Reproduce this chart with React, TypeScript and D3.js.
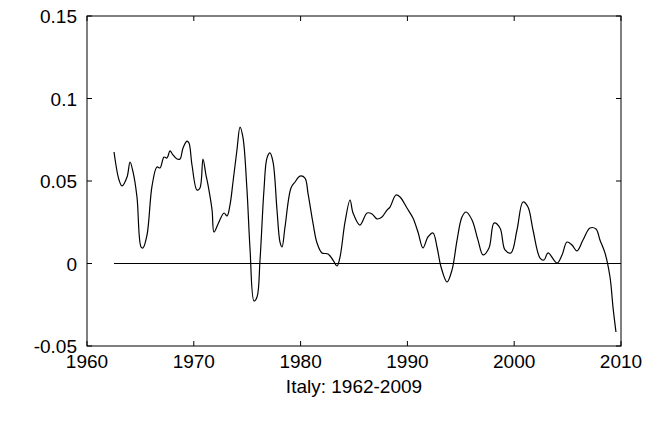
import React from "react";
import * as d3 from "d3";

const years = [1962.53,1963.00,1963.28,1963.75,1964.03,1964.31,1964.68,1965.06,1965.24,1965.62,1966.09,1966.55,1966.84,1967.21,1967.49,1967.77,1968.05,1968.43,1968.71,1968.99,1969.36,1969.55,1969.83,1970.30,1970.58,1970.86,1971.14,1971.33,1971.71,1971.89,1972.27,1972.83,1973.11,1973.39,1973.67,1974.04,1974.33,1974.61,1974.98,1975.27,1975.64,1975.92,1976.20,1976.57,1976.85,1977.13,1977.42,1977.79,1978.07,1978.26,1978.54,1979.10,1979.48,1979.94,1980.41,1980.69,1981.16,1981.54,1982.00,1982.57,1983.03,1983.41,1983.69,1984.16,1984.63,1984.91,1985.56,1986.22,1986.69,1987.15,1987.62,1988.09,1988.37,1988.93,1989.31,1989.96,1990.52,1990.99,1991.46,1991.93,1992.40,1992.77,1993.15,1993.71,1994.18,1994.65,1995.11,1995.49,1996.05,1996.61,1997.08,1997.64,1998.11,1998.67,1999.14,1999.70,2000.26,2000.82,2001.29,2001.76,2002.42,2002.79,2003.17,2004.01,2004.48,2004.94,2005.41,2005.88,2006.44,2007.10,2007.66,2008.03,2008.50,2008.97,2009.25,2009.53];
const values = [.0676,.0506,.0470,.0524,.0615,.0555,.0403,.0100,.0094,.0173,.0470,.0585,.0579,.0645,.0639,.0682,.0658,.0633,.0633,.0700,.0742,.0730,.0597,.0445,.0458,.0633,.0536,.0476,.0324,.0191,.0239,.0306,.0288,.0355,.0494,.0688,.0827,.0761,.0445,.0082,-.0227,-.0203,.0021,.0445,.0639,.0670,.0615,.0324,.0130,.0100,.0221,.0458,.0494,.0530,.0518,.0427,.0245,.0124,.0064,.0058,.0021,-.0015,.0039,.0252,.0385,.0306,.0233,.0306,.0300,.0270,.0282,.0324,.0342,.0415,.0403,.0336,.0276,.0191,.0094,.0161,.0185,.0100,-.0021,-.0112,-.0039,.0142,.0282,.0312,.0264,.0142,.0052,.0094,.0245,.0215,.0082,.0064,.0203,.0373,.0342,.0203,.0033,.0021,.0064,.0003,.0052,.0130,.0112,.0076,.0142,.0215,.0209,.0142,.0064,-.0082,-.0264,-.0415];
const xTicks = [1960, 1970, 1980, 1990, 2000, 2010];
const yTicks = [-0.05, 0, 0.05, 0.1, 0.15];
const yTickLabels = ["-0.05", "0", "0.05", "0.1", "0.15"];
const title = "Italy: 1962-2009";

export default function App() {
  const W = 658, H = 424;
  const L = 87, R = 621, T = 16, B = 346;
  const x = d3.scaleLinear().domain([1960, 2010]).range([L, R]);
  const y = d3.scaleLinear().domain([-0.05, 0.15]).range([B, T]);
  const line = d3.line<number>().x((_, i) => x(years[i])).y((v) => y(v)).curve(d3.curveCatmullRom.alpha(0.5));
  const font = "Liberation Sans, Arial, sans-serif";
  return (
    <svg width={W} height={H} style={{ position: "absolute", left: 0, top: 0, background: "#fff" }}>
      <rect x={0} y={0} width={W} height={H} fill="#fff" />
      <line x1={x(1962.53)} x2={x(2010)} y1={y(0)} y2={y(0)} stroke="#000" strokeWidth={1} />
      <path d={line(values) || ""} fill="none" stroke="#000" strokeWidth={1.2} />
      <rect x={L} y={T} width={R - L} height={B - T} fill="none" stroke="#000" strokeWidth={1} />
      {xTicks.map((t) => (
        <g key={t}>
          <line x1={x(t)} x2={x(t)} y1={B} y2={B - 5} stroke="#000" />
          <line x1={x(t)} x2={x(t)} y1={T} y2={T + 5} stroke="#000" />
          <text x={x(t)} y={B + 22} fontSize={19} fontFamily={font} textAnchor="middle">{t}</text>
        </g>
      ))}
      {yTicks.map((t, i) => (
        <g key={t}>
          <line x1={L} x2={L + 5} y1={y(t)} y2={y(t)} stroke="#000" />
          <line x1={R} x2={R - 5} y1={y(t)} y2={y(t)} stroke="#000" />
          <text x={L - 10} y={y(t) + 7} fontSize={19} fontFamily={font} textAnchor="end">{yTickLabels[i]}</text>
        </g>
      ))}
      <text x={(L + R) / 2} y={B + 47} fontSize={19} fontFamily={font} textAnchor="middle">{title}</text>
    </svg>
  );
}
